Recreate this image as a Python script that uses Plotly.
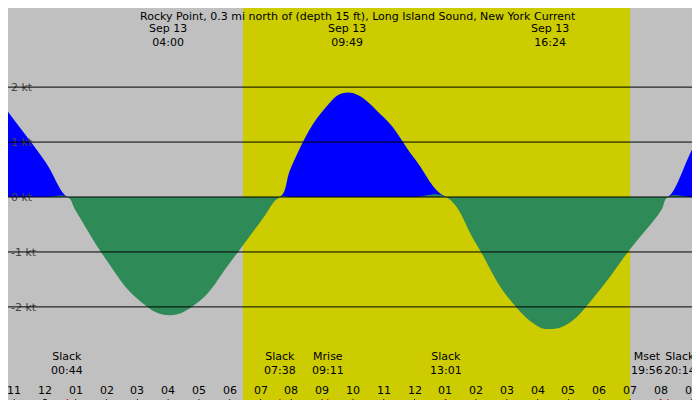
import plotly.graph_objects as go

# current curve (hours since midnight Sep 13, knots)
hours = [-1.2, -1, 0, 0.73, 1, 2, 3, 4, 5, 6, 7, 7.63, 8, 9, 9.82, 11, 12, 13.02,
         14, 15, 16, 16.4, 17, 18, 19, 20, 20.23, 21, 21.53]
speed = [1.55, 1.4, 0.65, 0, -0.25, -1.15, -1.85, -2.15, -1.9, -1.2, -0.45, 0, 0.55,
         1.55, 1.9, 1.45, 0.7, 0, -0.85, -1.8, -2.35, -2.4, -2.3, -1.7, -0.95, -0.25,
         0, 0.85, 1.45]

sunrise, sunset = 6.43, 19.0

tick_hours = list(range(-1, 22))
tick_text = ["11", "12"] + ["%02d" % h for h in range(1, 13)] + ["%02d" % h for h in range(1, 10)]

top_hours = [4.0, 9.82, 16.4]
top_text = ["Sep 13<br>04:00", "Sep 13<br>09:49", "Sep 13<br>16:24"]

event_hours = [0.73, 7.63, 9.18, 13.02, 19.93, 20.23]
event_text = ["Slack<br>00:44", "Slack<br>07:38", "Mrise<br>09:11", "Slack<br>13:01",
              "Mset<br>19:56", "Slack<br>20:14"]
event_shift = [0, 0, 0, 0, -12, 12]
red_marks = [0.73, 7.63, 9.18, 13.02, 20.23, 19.98]

font = dict(family="DejaVu Sans", size=11, color="black")

fig = go.Figure()
fig.add_trace(go.Scatter(x=hours, y=[max(v, 0) for v in speed], mode="lines",
                         line=dict(width=0, shape="spline", smoothing=1.2),
                         fill="tozeroy", fillcolor="#0000ff", hoverinfo="skip"))
fig.add_trace(go.Scatter(x=hours, y=[min(v, 0) for v in speed], mode="lines",
                         line=dict(width=0, shape="spline", smoothing=1.2),
                         fill="tozeroy", fillcolor="#2e8b57", hoverinfo="skip"))

fig.add_vrect(x0=sunrise, x1=sunset, fillcolor="#cccc00", opacity=1, line_width=0, layer="below")

for v in [-2, -1, 0, 1, 2]:
    fig.add_shape(type="line", xref="paper", x0=0, x1=1, y0=v, y1=v,
                  line=dict(color="black", width=1), layer="above")

for h in tick_hours:
    fig.add_shape(type="line", x0=h, x1=h, yref="paper", y0=0, y1=0.022,
                  line=dict(color="black", width=1))
    fig.add_annotation(x=h, y=0.022, yref="paper", yanchor="bottom", showarrow=False,
                       text=tick_text[tick_hours.index(h)], font=font)
for h in red_marks:
    fig.add_shape(type="line", x0=h, x1=h, yref="paper", y0=0, y1=0.022,
                  line=dict(color="red", width=1.5))
fig.add_shape(type="line", x0=0, x1=0, yref="paper", y0=0, y1=0.022,
              line=dict(color="black", width=3.5))

for h, t in zip(top_hours, top_text):
    fig.add_annotation(x=h, y=0.97, yref="paper", text=t, showarrow=False,
                       font=font, yanchor="top", align="center")
fig.add_annotation(x=0.5, xref="paper", y=1.0, yref="paper", yanchor="top",
                   text="Rocky Point, 0.3 mi north of (depth 15 ft), Long Island Sound, New York Current",
                   showarrow=False, font=font)

for h, t, s in zip(event_hours, event_text, event_shift):
    fig.add_annotation(x=h, y=0.072, yref="paper", text=t, showarrow=False, xshift=s,
                       font=font, yanchor="bottom", align="center")

fig.update_layout(
    width=700, height=400, margin=dict(l=0, r=0, t=0, b=0, pad=0, autoexpand=False),
    paper_bgcolor="#c0c0c0", plot_bgcolor="#c0c0c0", showlegend=False, font=font,
    xaxis=dict(range=[-1.2, 21.53], showticklabels=False, ticks="",
               showgrid=False, zeroline=False, fixedrange=True),
    yaxis=dict(range=[-3.84, 3.44], tickvals=[-2, -1, 0, 1, 2],
               ticktext=["-2 kt", "-1 kt", "0 kt", "1 kt", "2 kt"],
               ticklabelposition="inside", showgrid=False, zeroline=False, fixedrange=True),
)

fig.write_html("out.html")
